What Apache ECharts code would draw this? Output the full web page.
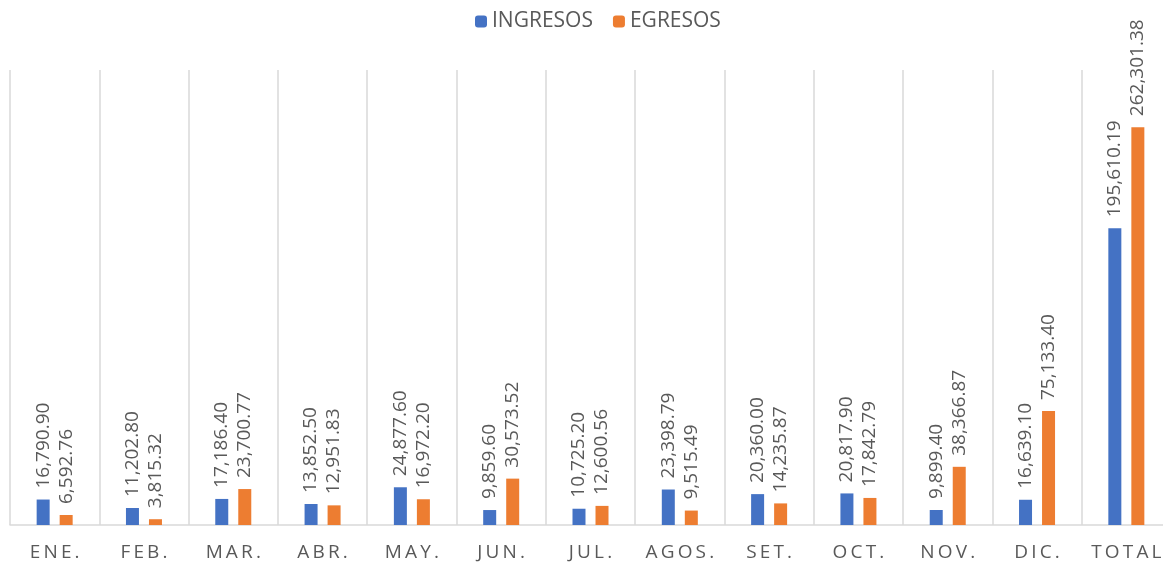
<!DOCTYPE html>
<html><head><meta charset="utf-8">
<script src="https://cdn.jsdelivr.net/npm/echarts@6/dist/echarts.min.js"></script>
<style>html,body{margin:0;padding:0;background:#fff;overflow:hidden}#c{width:1163px;height:565px}</style>
</head><body><div id="c"></div>
<script>
const categories = ['ENE.','FEB.','MAR.','ABR.','MAY.','JUN.','JUL.','AGOS.','SET.','OCT.','NOV.','DIC.','TOTAL'];
const ingresos = [16790.90,11202.80,17186.40,13852.50,24877.60,9859.60,10725.20,23398.79,20360.00,20817.90,9899.40,16639.10,195610.19];
const egresos = [6592.76,3815.32,23700.77,12951.83,16972.20,30573.52,12600.56,9515.49,14235.87,17842.79,38366.87,75133.40,262301.38];

const fmt = v => v.toLocaleString('en-US',{minimumFractionDigits:2,maximumFractionDigits:2});
const font = 'Open Sans';
const lbl = {show:true, position:'top', rotate:90, align:'left', verticalAlign:'middle', distance:11,
  color:'#595959', fontSize:19, fontFamily:font, formatter:p=>fmt(p.value)};

const chart = echarts.init(document.getElementById('c'));
chart.setOption({
  animation:false,
  legend:{top:6, left:470, itemWidth:12, itemHeight:12, itemGap:20,
    textStyle:{color:'#595959', fontSize:21, fontFamily:font}},
  grid:{left:10, top:70, bottom:40, width:1161, outerBoundsMode:'none', containLabel:false},
  xAxis:{type:'category', data:categories,
    axisLine:{lineStyle:{color:'#d9d9d9', width:1.5}}, axisTick:{show:false},
    splitLine:{show:true, interval:0, showMaxLine:false, lineStyle:{color:'#d9d9d9', width:1.5}},
    axisLabel:{interval:0, hideOverlap:false, color:'#595959', fontSize:19, fontFamily:font, margin:18,
      formatter:v=>v.split('').join('\u2009')}},
  yAxis:{type:'value', min:0, max:300000, show:false, splitLine:{show:false}},
  series:[
    {name:'INGRESOS', type:'bar', data:ingresos, barWidth:13, barGap:'77%', itemStyle:{color:'#4472C4'}, label:lbl},
    {name:'EGRESOS', type:'bar', data:egresos, barWidth:13, itemStyle:{color:'#ED7D31'}, label:lbl}
  ]
});
</script></body></html>
